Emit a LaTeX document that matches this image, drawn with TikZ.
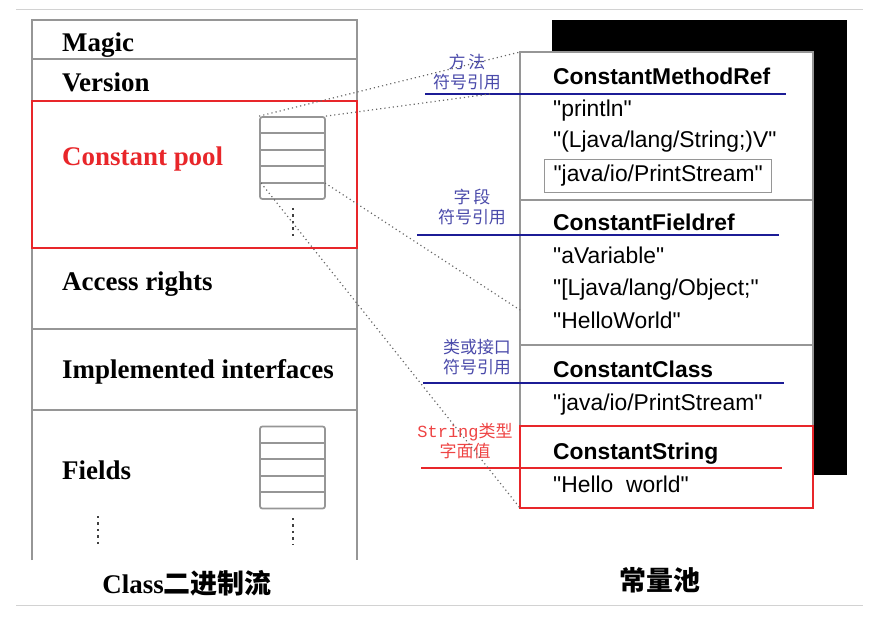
\documentclass[tikz,border=0pt]{standalone}
\usepackage{fontspec}
\setmainfont{Liberation Serif}
\setsansfont{Liberation Sans}[Ligatures=TeXOff]
\newfontfamily\cjk{Noto Sans CJK SC}
\newfontfamily\notemono{Liberation Mono}
\usetikzlibrary{positioning}
\definecolor{rimgray}{HTML}{969696}
\definecolor{pagegray}{HTML}{D2D2D2}
\definecolor{poolred}{HTML}{E8262A}
\definecolor{refblue}{HTML}{1C1C96}
\definecolor{noteblue}{HTML}{4A4AAA}
\definecolor{notered}{HTML}{EE4444}

\begin{document}
\begin{tikzpicture}[x=0.03cm, y=-0.03cm,
    rim/.style={draw=rimgray, line width=1.5pt},
    poolbox/.style={draw=poolred, line width=2.4pt, minimum width=325*0.03cm,
                    minimum height=147*0.03cm, inner sep=0pt, outer sep=0pt},
    tbl/.style={rim, rounded corners=2pt, minimum width=65*0.03cm,
                minimum height=82*0.03cm, inner sep=0pt},
    field/.style={anchor=base west, inner sep=0pt, font=\fontsize{23}{27}\selectfont\bfseries},
    cpsec/.style={rim, fill=white, minimum width=293*0.03cm, inner sep=0pt, outer sep=0pt},
    cname/.style={anchor=base west, inner sep=0pt, font=\sffamily\fontsize{19.5}{23}\selectfont\bfseries},
    cval/.style={anchor=base west, inner sep=0pt, font=\sffamily\fontsize{19.5}{23}\selectfont},
    note/.style={align=center, inner sep=0pt, font=\cjk\fontsize{14.5}{17.5}\selectfont},
    refline/.style={draw=refblue, line width=2.2pt},
    link/.style={draw=black!60, line width=1pt, dash pattern=on 1pt off 2.6pt},
    vdots/.style={draw=black!75, line width=2pt, dash pattern=on 2pt off 3.5pt},
    capt/.style={anchor=base, inner sep=0pt, font=\fontsize{23}{27}\selectfont\bfseries}]
  \useasboundingbox (0,0) rectangle (876,627);
  \draw[pagegray, line width=0.8pt] (16,9) -- (863,9);
  \draw[pagegray, line width=0.8pt] (16,605) -- (863,605);

  % class file layout
  \draw[rim] (32,560) -- (32,20) -- (357,20) -- (357,560);
  \foreach \yy in {59,248,329,410}
    \draw[rim] (32,\yy) -- (357,\yy);
  \node[field] (magic) at (62,52) {Magic};
  \node[field] (version) at (62,92) {Version};
  \node[field, text=poolred] (cpName) at (62,166) {Constant pool};
  \node[field] (access) at (62,290) {Access rights};
  \node[field] (ifaces) at (62,378) {Implemented interfaces};
  \node[field] (fields) at (62,479) {Fields};
  \draw[vdots] (98,516) -- (98,545);

  \node[tbl] (cpTbl) at (292.5,158) {};
  \foreach \yy in {133,150,166,183}
    \draw[rim] (260,\yy) -- (325,\yy);
  \draw[vdots] (293,208) -- (293,237);
  \node[tbl] (fdTbl) at (292.5,467.5) {};
  \foreach \yy in {443,459,476,492}
    \draw[rim] (260,\yy) -- (325,\yy);
  \draw[vdots] (293,518) -- (293,545);
  \node[poolbox] (cpool) at (194.5,174.5) {};

  % constant pool
  \node[fill=black, minimum width=295*0.03cm, minimum height=455*0.03cm,
        inner sep=0pt] (shade) at (699.5,247.5) {};
  \node[cpsec, minimum height=148*0.03cm] (secMethod) at (666.5,126) {};
  \node[cpsec, minimum height=145*0.03cm, below=0pt of secMethod] (secField) {};
  \node[cpsec, minimum height=81*0.03cm, below=0pt of secField] (secClass) {};
  \node[poolbox, fill=white, minimum width=293*0.03cm, minimum height=82*0.03cm,
        below=0pt of secClass] (secString) {};

  \node[cname] (mref) at (553,85) {ConstantMethodRef};
  \node[cval] (mName) at (553,117) {"println"};
  \node[cval] (mDesc) at (553,148) {"(Ljava/lang/String;)V"};
  \node[cval, draw=rimgray, line width=1pt, inner xsep=9*0.03cm, inner ysep=6*0.03cm]
    (mStream) at (544,182) {"java/io/PrintStream"};
  \node[cname] (fref) at (553,231) {ConstantFieldref};
  \node[cval] (fName) at (553,264) {"aVariable"};
  \node[cval] (fDesc) at (553,295) {"[Ljava/lang/Object;"};
  \node[cval] (fOwner) at (553,328) {"HelloWorld"};
  \node[cname] (cref) at (553,377) {ConstantClass};
  \node[cval] (cName) at (553,410) {"java/io/PrintStream"};
  \node[cname] (sref) at (553,459) {ConstantString};
  \node[cval] (sVal) at (553,492) {"Hello\ \ world"};

  \draw[refline] (425,94) -- (786,94);
  \draw[refline] (417,235) -- (779,235);
  \draw[refline] (423,383) -- (784,383);
  \draw[refline, draw=poolred] (421,468) -- (782,468);

  \node[note, text=noteblue] (mNote) at (467,72) {方\,法\\符号引用};
  \node[note, text=noteblue] (fNote) at (472,207) {字\,段\\符号引用};
  \node[note, text=noteblue] (cNote) at (477,357) {类或接口\\符号引用};
  \node[note, text=notered] (sNote) at (465,441) {{\notemono String}类型\\字面值};

  % links from the pool table
  \coordinate (mHit) at (490,94);
  \coordinate (fHit) at (520,310);
  \coordinate (cpRowE) at (325,183);
  \coordinate (cpRowW) at (261,183);
  \draw[link] (cpTbl.north west) -- (secMethod.north west);
  \draw[link] (cpTbl.north east) -- (mHit);
  \draw[link] (cpRowE) -- (fHit);
  \draw[link] (cpRowW) -- (secString.south west);

  \node[capt] (classCap) at (187,593) {Class{\cjk 二进制流}};
  \node[capt, font=\cjk\fontsize{23}{27}\selectfont\bfseries] (poolCap) at (660,590) {常量池};
\end{tikzpicture}
\end{document}
